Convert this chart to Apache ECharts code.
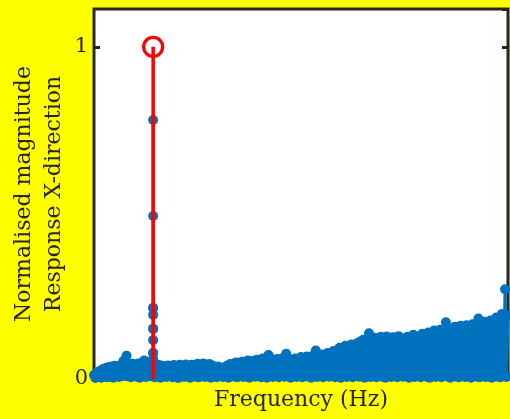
<!DOCTYPE html>
<html>
<head>
<meta charset="utf-8">
<script src="https://cdn.jsdelivr.net/npm/echarts@6/dist/echarts.min.js"></script>
<style>
  html, body { margin: 0; padding: 0; background: #ffff00; }
  #chart { width: 510px; height: 419px; }
</style>
</head>
<body>
<div id="chart"></div>
<script>
// Frequency bins (step in Hz) and normalised response magnitude per bin
const freqStep = 1;
const magnitude = [
  0.012, 0.003, 0.020, 0.006, 0.024, 0.004, 0.030, 0.010, 0.033, 0.005,
  0.036, 0.008, 0.038, 0.004, 0.040, 0.012, 0.037, 0.006, 0.042, 0.009,
  0.055, 0.014, 0.070, 0.008, 0.045, 0.005, 0.046, 0.011, 0.043, 0.007,
  0.047, 0.004, 0.044, 0.010, 0.056, 0.006, 0.050, 0.013, 0.046, 0.008,
  0.060, 0.005, 0.045, 0.009, 0.042, 0.004, 0.040, 0.012, 0.038, 0.006,
  0.041, 0.010, 0.036, 0.005, 0.042, 0.008, 0.040, 0.003, 0.043, 0.011,
  0.038, 0.006, 0.044, 0.009, 0.036, 0.004, 0.043, 0.012, 0.040, 0.007,
  0.046, 0.005, 0.041, 0.010, 0.047, 0.006, 0.042, 0.013, 0.045, 0.004,
  0.041, 0.009, 0.036, 0.005, 0.038, 0.011, 0.033, 0.006, 0.035, 0.008,
  0.040, 0.004, 0.045, 0.012, 0.043, 0.007, 0.050, 0.005, 0.046, 0.010,
  0.052, 0.006, 0.049, 0.013, 0.056, 0.004, 0.051, 0.009, 0.055, 0.007,
  0.058, 0.011, 0.054, 0.005, 0.062, 0.008, 0.057, 0.004, 0.072, 0.012,
  0.061, 0.006, 0.056, 0.010, 0.060, 0.005, 0.058, 0.013, 0.064, 0.007,
  0.076, 0.009, 0.060, 0.004, 0.055, 0.011, 0.062, 0.006, 0.058, 0.008,
  0.066, 0.005, 0.062, 0.012, 0.068, 0.007, 0.064, 0.004, 0.070, 0.010,
  0.086, 0.006, 0.068, 0.013, 0.074, 0.005, 0.064, 0.009, 0.078, 0.007,
  0.072, 0.011, 0.084, 0.005, 0.080, 0.008, 0.094, 0.004, 0.088, 0.012,
  0.100, 0.006, 0.090, 0.010, 0.104, 0.005, 0.096, 0.013, 0.108, 0.007,
  0.112, 0.009, 0.118, 0.004, 0.110, 0.011, 0.138, 0.006, 0.116, 0.008,
  0.124, 0.005, 0.114, 0.012, 0.127, 0.007, 0.118, 0.004, 0.128, 0.010,
  0.120, 0.006, 0.126, 0.013, 0.116, 0.005, 0.129, 0.009, 0.122, 0.007,
  0.118, 0.011, 0.127, 0.004, 0.121, 0.008, 0.133, 0.006, 0.124, 0.012,
  0.128, 0.005, 0.136, 0.009, 0.126, 0.007, 0.140, 0.004, 0.132, 0.011,
  0.146, 0.006, 0.136, 0.010, 0.148, 0.005, 0.140, 0.013, 0.171, 0.008,
  0.150, 0.004, 0.140, 0.011, 0.157, 0.007, 0.148, 0.005, 0.160, 0.012,
  0.146, 0.006, 0.162, 0.009, 0.150, 0.004, 0.165, 0.010, 0.155, 0.007,
  0.182, 0.005, 0.160, 0.012, 0.172, 0.006, 0.164, 0.009, 0.176, 0.004,
  0.168, 0.011, 0.185, 0.007, 0.176, 0.005, 0.196, 0.010, 0.270, 0.006,
  0.192
];

// Fine-resolution samples around the excitation frequency
const peakFreq = 40;
const peakMagnitude = [0.078, 0.117, 0.151, 0.193, 0.214, 0.491, 0.780, 0.214, 0.151, 0.078];

// Reference line at the excitation frequency
const stemFreq = 40;
const stemLevel = [0, 1];

const yTicks = [0, 1];

// Build the response trace; the fine samples sit right after the peak bin
const response = [];
magnitude.forEach(function (v, i) {
  response.push([i * freqStep, v]);
  if (i * freqStep === peakFreq) {
    peakMagnitude.forEach(function (p) { response.push([peakFreq, p]); });
  }
});

const serif = 'DejaVu Serif';
const ink = '#262626';

const chart = echarts.init(document.getElementById('chart'));
chart.setOption({
  backgroundColor: '#ffff00',
  animation: false,
  grid: {
    left: 94, right: 2, top: 9, bottom: 40,
    outerBoundsMode: 'none', containLabel: false,
    show: true, backgroundColor: '#ffffff',
    borderColor: ink, borderWidth: 3
  },
  xAxis: {
    type: 'value', min: 0, max: (magnitude.length - 1) * freqStep,
    name: 'Frequency (Hz)', nameLocation: 'middle', nameGap: 10,
    nameTextStyle: { fontFamily: serif, fontSize: 22, color: ink, verticalAlign: 'top' },
    axisLine: { show: false }, axisTick: { show: false },
    axisLabel: { show: false }, splitLine: { show: false }
  },
  yAxis: [
    {
      type: 'value', min: 0, max: 1.114, interval: 1,
      name: 'Normalised magnitude\nResponse X-direction',
      nameLocation: 'middle', nameRotate: 90, nameGap: 25, nameMoveOverlap: false,
      nameTextStyle: { fontFamily: serif, fontSize: 22, color: ink, lineHeight: 30 },
      axisLine: { show: false },
      axisTick: { show: true, inside: true, length: 6, lineStyle: { color: ink, width: 3 } },
      axisLabel: {
        fontFamily: serif, fontSize: 21, color: ink, margin: 6,
        showMaxLabel: false,
        formatter: function (v) { return yTicks.indexOf(v) >= 0 ? String(v) : ''; }
      },
      splitLine: { show: false }
    },
    {
      type: 'value', min: 0, max: 1.114, interval: 1, position: 'right',
      axisLine: { show: false },
      axisTick: { show: true, inside: true, length: 6, lineStyle: { color: ink, width: 3 } },
      axisLabel: { show: false },
      splitLine: { show: false }
    }
  ],
  series: [
    {
      type: 'line',
      data: response,
      clip: false,
      symbol: 'circle', symbolSize: 10, showAllSymbol: true,
      lineStyle: { color: '#0072BD', width: 3 },
      itemStyle: { color: '#0072BD' },
      z: 2
    },
    {
      type: 'line',
      data: [
        { value: [stemFreq, stemLevel[0]], symbol: 'none' },
        { value: [stemFreq, stemLevel[1]], symbol: 'circle', symbolSize: 19 }
      ],
      clip: false,
      lineStyle: { color: '#ff0000', width: 3.5 },
      itemStyle: { color: 'rgba(0,0,0,0)', borderColor: '#ff0000', borderWidth: 3.3 },
      z: 3
    }
  ]
});
</script>
</body>
</html>
